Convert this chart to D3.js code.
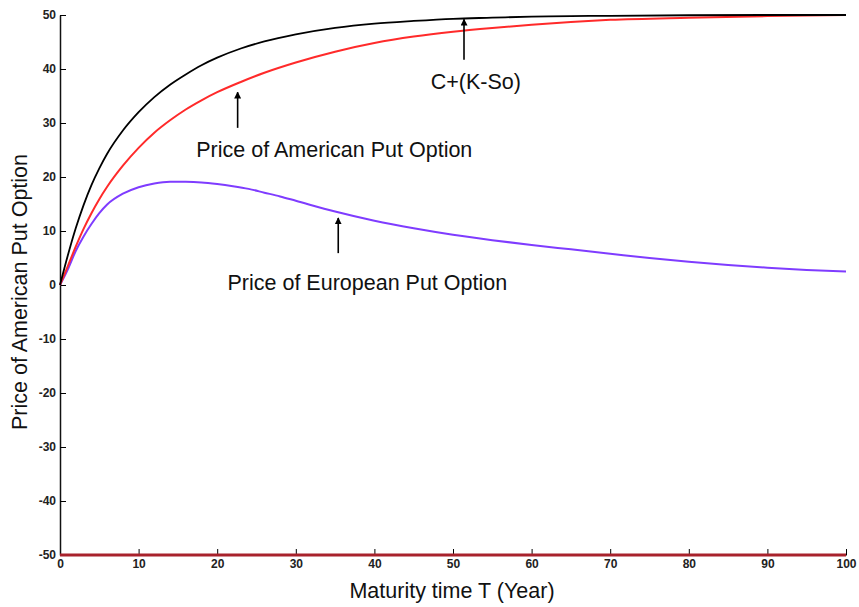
<!DOCTYPE html>
<html>
<head>
<meta charset="UTF-8">
<title>American vs European put</title>
<script src="https://cdnjs.cloudflare.com/ajax/libs/d3/7.8.5/d3.min.js"></script>
<style>
  body { margin: 0; background: #fff; }
  svg text { font-family: Arial, "Liberation Sans", sans-serif; fill: #111; }
  .tick text { font-size: 12px; font-weight: bold; fill: #222; }
  .note { font-size: 21.5px; }
  .axis-title { font-size: 21.5px; }
</style>
</head>
<body>
<div id="chart"></div>
<script>
// maturity (years) and prices
var tUpper = [0, 1, 2, 3, 4, 5, 6, 8, 10, 12, 14, 16, 18, 20, 23, 26, 30, 35, 40, 45, 50, 55, 60, 70, 80, 90, 100];
var upperBound = [0, 5.5, 10.5, 14.8, 18.5, 21.6, 24.3, 28.6, 32.0, 34.8, 37.1, 39.0, 40.7, 42.1, 43.8, 45.1, 46.4, 47.6, 48.4, 48.9, 49.3, 49.5, 49.7, 49.85, 49.95, 50, 50];

var tAmerican = [0, 1, 2, 3, 4, 5, 6, 8, 10, 12, 14, 16, 18, 20, 23, 26, 30, 35, 40, 45, 50, 55, 60, 65, 70, 80, 90, 100];
var american = [0, 3.5, 7.1, 10.4, 13.3, 15.9, 18.2, 22.1, 25.4, 28.2, 30.5, 32.5, 34.2, 35.7, 37.6, 39.3, 41.2, 43.2, 44.8, 46.0, 46.9, 47.6, 48.2, 48.7, 49.1, 49.5, 49.8, 50];

var tEuropean = [0, 1, 2, 3, 4, 5, 6, 8, 10, 12, 14, 16, 18, 20, 22, 24, 26, 28, 30, 35, 40, 45, 50, 55, 60, 65, 70, 75, 80, 85, 90, 95, 100];
var european = [0, 2.9, 6.3, 9.0, 11.3, 13.3, 14.9, 16.9, 18.1, 18.8, 19.1, 19.1, 19.0, 18.7, 18.3, 17.8, 17.1, 16.4, 15.6, 13.6, 11.9, 10.5, 9.3, 8.3, 7.4, 6.6, 5.8, 5.0, 4.3, 3.7, 3.2, 2.8, 2.5];

var tFloor = [0, 100];
var floorLine = [-50, -50];

var xTicks = [0, 10, 20, 30, 40, 50, 60, 70, 80, 90, 100];
var yTicks = [-50, -40, -30, -20, -10, 0, 10, 20, 30, 40, 50];

var width = 859;
var height = 607;
var margin = {top: 15, right: 13, bottom: 52, left: 60};

var svg = d3.select("#chart")
  .append("svg")
  .attr("width", width)
  .attr("height", height);

var x = d3.scaleLinear().domain([0, 100]).range([margin.left, width - margin.right]);
var y = d3.scaleLinear().domain([-50, 50]).range([height - margin.bottom, margin.top]);

// plain hyphen for negatives, like the original
var plain = function(d) { return String(d); };

// axes, ticks pointing inward
svg.append("g")
  .attr("transform", "translate(0," + y(-50) + ")")
  .call(d3.axisBottom(x).tickValues(xTicks).tickFormat(plain).tickSizeInner(-6).tickSizeOuter(0).tickPadding(4))
  .call(function(g) { g.select(".domain").attr("stroke", "#111"); });

svg.append("g")
  .attr("transform", "translate(" + x(0) + ",0)")
  .call(d3.axisLeft(y).tickValues(yTicks).tickFormat(plain).tickSizeInner(-6).tickSizeOuter(0).tickPadding(4))
  .call(function(g) { g.select(".domain").attr("stroke", "#111").attr("stroke-width", 1.5); });

var line = d3.line()
  .x(function(d) { return x(d[0]); })
  .y(function(d) { return y(d[1]); })
  .curve(d3.curveMonotoneX);

var series = [
  {t: tFloor, v: floorLine, color: "#a8222c", w: 3},
  {t: tEuropean, v: european, color: "#7f3cff", w: 2},
  {t: tAmerican, v: american, color: "#ff2a2a", w: 2},
  {t: tUpper, v: upperBound, color: "#000000", w: 1.8}
];

series.forEach(function(s) {
  svg.append("path")
    .datum(d3.zip(s.t, s.v))
    .attr("fill", "none")
    .attr("stroke", s.color)
    .attr("stroke-width", s.w)
    .attr("d", line);
});

// annotation arrows
svg.append("defs").append("marker")
  .attr("id", "head")
  .attr("viewBox", "0 0 10 10")
  .attr("refX", 9)
  .attr("refY", 5)
  .attr("markerWidth", 7)
  .attr("markerHeight", 7)
  .attr("markerUnits", "userSpaceOnUse")
  .attr("orient", "auto")
  .append("path")
  .attr("d", "M0,0L10,5L0,10z")
  .attr("fill", "#000");

var notes = [
  {text: "C+(K-So)", t: 51.4, from: 41.7, to: 49.2, tx: 52.9, ty: 36.3},
  {text: "Price of American Put Option", t: 22.6, from: 29.1, to: 35.7, tx: 34.9, ty: 23.7},
  {text: "Price of European Put Option", t: 35.4, from: 5.9, to: 12.4, tx: 39.1, ty: -0.9}
];

notes.forEach(function(n) {
  svg.append("line")
    .attr("x1", x(n.t)).attr("x2", x(n.t))
    .attr("y1", y(n.from)).attr("y2", y(n.to))
    .attr("stroke", "#000")
    .attr("stroke-width", 1.6)
    .attr("marker-end", "url(#head)");
  svg.append("text")
    .attr("class", "note")
    .attr("x", x(n.tx))
    .attr("y", y(n.ty))
    .attr("text-anchor", "middle")
    .text(n.text);
});

svg.append("text")
  .attr("class", "axis-title")
  .attr("x", 452)
  .attr("y", 598)
  .attr("text-anchor", "middle")
  .text("Maturity time T (Year)");

svg.append("text")
  .attr("class", "axis-title")
  .attr("transform", "translate(27,292) rotate(-90)")
  .attr("text-anchor", "middle")
  .text("Price of American Put Option");
</script>
</body>
</html>
